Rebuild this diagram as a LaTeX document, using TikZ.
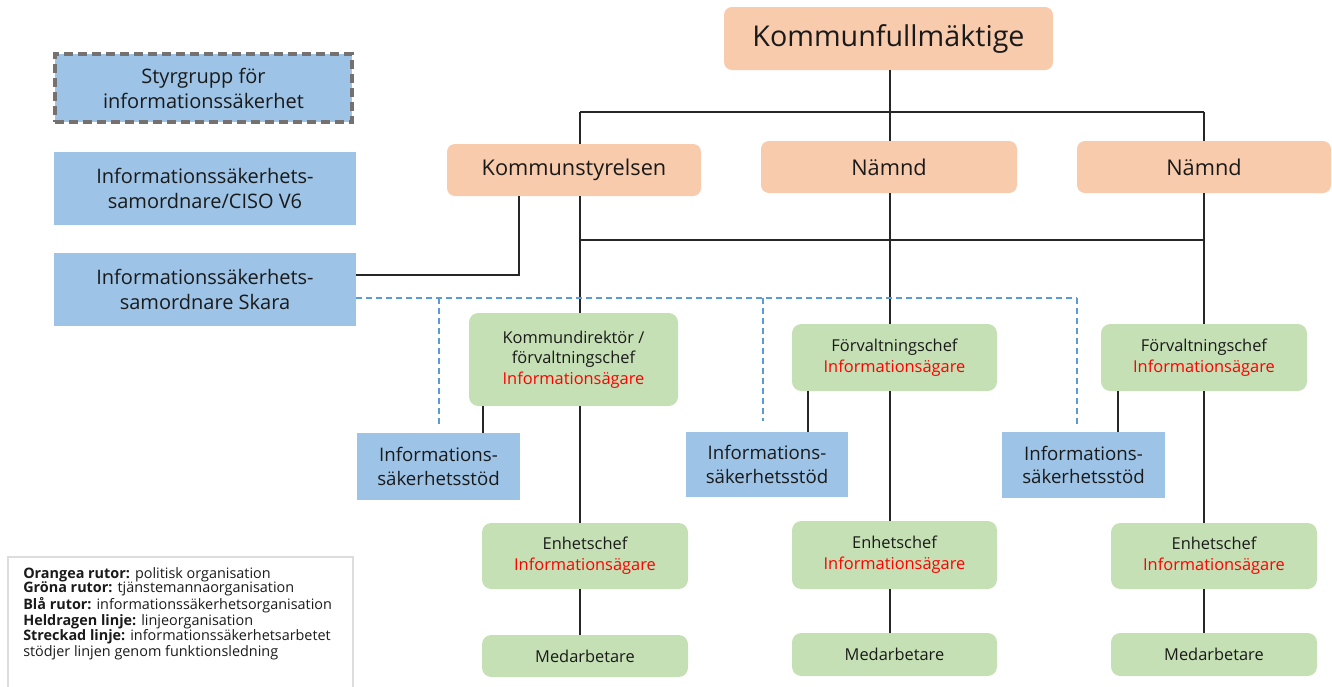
\documentclass[tikz,border=0pt]{standalone}
\usepackage{fontspec}
\setmainfont{Open Sans}
\definecolor{orfill}{HTML}{F8CBAD}
\definecolor{grfill}{HTML}{C5E0B4}
\definecolor{blfill}{HTML}{9DC3E6}
\definecolor{dgray}{HTML}{767171}
\definecolor{dblue}{HTML}{5B9BD5}
\definecolor{infored}{HTML}{FF0000}
\definecolor{legborder}{HTML}{DDDDDD}
\definecolor{txt}{HTML}{1A1A1A}
\tikzset{
  wh/.style 2 args={minimum width=#1*0.75pt, minimum height=#2*0.75pt},
  base/.style={inner sep=0pt, align=center, text=txt, anchor=center},
  orbox/.style={base, fill=orfill, rounded corners=6pt},
  grbox/.style={base, fill=grfill, rounded corners=7pt, font=\fontsize{12.3}{15.5}\selectfont},
  blbox/.style={base, fill=blfill, font=\fontsize{15}{18.8}\selectfont},
  stbox/.style={base, fill=blfill, font=\fontsize{14}{17.5}\selectfont},
  solidline/.style={draw=black!85, line width=1pt},
  dashline/.style={draw=dblue, line width=1.1pt, dash pattern=on 4.5pt off 3pt},
}
\newcommand{\owner}{\textcolor{infored}{Informationsägare}}
\begin{document}
\begin{tikzpicture}[x=0.75pt,y=-0.75pt]
\useasboundingbox (0,0) rectangle (1332,686);
% orange
\node[orbox, wh={329}{63}, font=\fontsize{21.5}{26}\selectfont] (KF) at (888.5,38.5) {Kommunfullmäktige};
\node[orbox, wh={254}{52}, font=\fontsize{16.3}{20}\selectfont] (KS) at (574,170) {Kommunstyrelsen};
\node[orbox, wh={256}{52}, font=\fontsize{16.3}{20}\selectfont] (NA1) at (889,167) {Nämnd};
\node[orbox, wh={254}{52}, font=\fontsize{16.3}{20}\selectfont] (NA2) at (1204,167) {Nämnd};
% left blue
\node[blbox, wh={297}{68}, draw=dgray, line width=2.4pt, dash pattern=on 7pt off 3.5pt] (STY) at (203.5,88) {Styrgrupp för\\informationssäkerhet};
\node[blbox, wh={302}{73}] (CISO) at (205,188.5) {Informationssäkerhets-\\samordnare/CISO V6};
\node[blbox, wh={302}{73}] (SKA) at (205,289.5) {Informationssäkerhets-\\samordnare Skara};
% green
\node[grbox, wh={209}{93}] (KD) at (573.5,359.5) {Kommundirektör /\\förvaltningschef\\\owner};
\node[grbox, wh={205}{67}] (FC1) at (894.5,357.5) {Förvaltningschef\\\owner};
\node[grbox, wh={206}{67}] (FC2) at (1204,357.5) {Förvaltningschef\\\owner};
\node[grbox, wh={206}{66}] (ENH1) at (585,556) {Enhetschef\\\owner};
\node[grbox, wh={205}{68}] (ENH2) at (894.5,555) {Enhetschef\\\owner};
\node[grbox, wh={206}{66}] (ENH3) at (1214,556) {Enhetschef\\\owner};
\node[grbox, wh={206}{42}] (MED1) at (585,656) {Medarbetare};
\node[grbox, wh={205}{43}] (MED2) at (894.5,654.5) {Medarbetare};
\node[grbox, wh={206}{43}] (MED3) at (1214,654.5) {Medarbetare};
% stöd
\node[stbox, wh={163}{67}] (ST1) at (438.5,466.5) {Informations-\\säkerhetsstöd};
\node[stbox, wh={162}{65}] (ST2) at (767,464.5) {Informations-\\säkerhetsstöd};
\node[stbox, wh={163}{66}] (ST3) at (1083.5,465) {Informations-\\säkerhetsstöd};
% coordinates
\coordinate (c1) at (580,0);
\coordinate (c2) at (890,0);
\coordinate (c3) at (1204,0);
\coordinate (h1) at (0,112);
\coordinate (h2) at (0,240);
\coordinate (ksk) at (519,275);
\coordinate (dl) at (0,298);
\coordinate (d1) at (439,298);
\coordinate (d2) at (763,298);
\coordinate (d3) at (1077,298);
\coordinate (e1) at (439,426);
\coordinate (e2) at (763,421);
\coordinate (e3) at (1077,426);
\coordinate (s1) at (483,0);
\coordinate (s2) at (808,0);
\coordinate (s3) at (1118,0);
% solid lines
\draw[solidline] (KF.south -| c2) -- (NA1.north -| c2);
\draw[solidline] (c1 |- h1) -- (c3 |- h1);
\draw[solidline] (c1 |- h1) -- (KS.north -| c1);
\draw[solidline] (c3 |- h1) -- (NA2.north -| c3);
\draw[solidline] (KS.south -| c1) -- (KD.north -| c1);
\draw[solidline] (c1 |- h2) -- (c3 |- h2);
\draw[solidline] (NA1.south -| c2) -- (FC1.north -| c2);
\draw[solidline] (NA2.south -| c3) -- (FC2.north -| c3);
\draw[solidline] (KD.south -| c1) -- (ENH1.north -| c1);
\draw[solidline] (FC1.south -| c2) -- (ENH2.north -| c2);
\draw[solidline] (FC2.south -| c3) -- (ENH3.north -| c3);
\draw[solidline] (ENH1.south -| c1) -- (MED1.north -| c1);
\draw[solidline] (ENH2.south -| c2) -- (MED2.north -| c2);
\draw[solidline] (ENH3.south -| c3) -- (MED3.north -| c3);
\draw[solidline] (KS.south -| ksk) -- (ksk) -- (SKA.east |- ksk);
\draw[solidline] (KD.south -| s1) -- (ST1.north -| s1);
\draw[solidline] (FC1.south -| s2) -- (ST2.north -| s2);
\draw[solidline] (FC2.south -| s3) -- (ST3.north -| s3);
% dashed lines
\draw[dashline] (SKA.east |- dl) -- (d3);
\draw[dashline] (d1) -- (e1);
\draw[dashline] (d2) -- (e2);
\draw[dashline] (d3) -- (e3);
% legend
\draw[draw=legborder, line width=0.8pt] (8,700) |- (353,557) -- (353,700);
\node[anchor=north west, inner sep=0pt, align=left, text=txt, font=\fontsize{10.8}{10.75}\selectfont] (LEG) at (23,567)
{\textbf{Orangea rutor:} politisk organisation\\
\textbf{Gröna rutor:} tjänstemannaorganisation\\
\textbf{Blå rutor:} informationssäkerhetsorganisation\\
\textbf{Heldragen linje:} linjeorganisation\\
\textbf{Streckad linje:} informationssäkerhetsarbetet\\
stödjer linjen genom funktionsledning};
\end{tikzpicture}
\end{document}
